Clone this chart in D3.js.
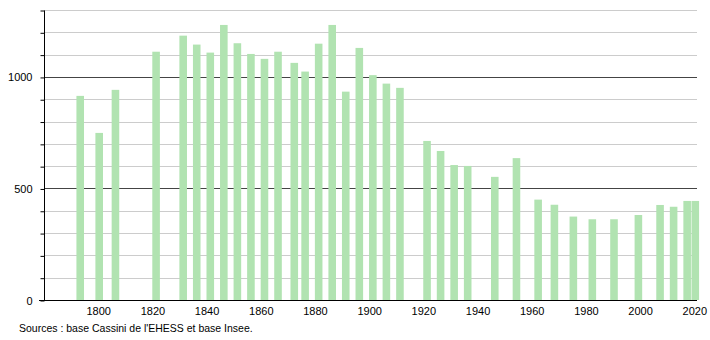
<!DOCTYPE html>
<html lang="fr">
  <head>
    <meta charset="UTF-8" />
    <title>Population</title>
    <style>
      body { margin: 0; background: #fff; }
      text { font-family: "Liberation Sans", Arial, sans-serif; }
    </style>
    <script src="https://d3js.org/d3.v7.min.js"></script>
  </head>
  <body>
    <svg width="710" height="340"></svg>
    <script>
      // census years and population
      var years = [1793, 1800, 1806, 1821, 1831, 1836, 1841, 1846, 1851, 1856,
        1861, 1866, 1872, 1876, 1881, 1886, 1891, 1896, 1901, 1906, 1911,
        1921, 1926, 1931, 1936, 1946, 1954, 1962, 1968, 1975, 1982, 1990,
        1999, 2007, 2012, 2017, 2020];
      var population = [915, 749, 942, 1113, 1185, 1145, 1109, 1233, 1151, 1103,
        1081, 1113, 1063, 1024, 1149, 1233, 934, 1130, 1008, 970, 951,
        713, 668, 605, 601, 552, 636, 450, 427, 374, 362, 362,
        381, 426, 418, 444, 444];
      var xTicks = [1800, 1820, 1840, 1860, 1880, 1900, 1920, 1940, 1960, 1980, 2000, 2020];
      var yLabels = [0, 500, 1000];
      var source = "Sources : base Cassini de l'EHESS et base Insee.";

      var svg = d3.select("svg");
      var mLeft = 44, mRight = 697, mTop = 10, mBottom = 300;

      var x = d3.scaleLinear().domain([1780, 2021]).range([mLeft, mRight]);
      var y = d3.scaleLinear().domain([0, 1300]).range([mBottom, mTop]);
      var barW = x(1782.8) - x(1780);

      // grid
      svg.append("g")
        .selectAll("line")
        .data(d3.range(100, 1301, 100))
        .join("line")
        .attr("x1", mLeft)
        .attr("x2", mRight)
        .attr("y1", (d) => Math.round(y(d)) + 0.5)
        .attr("y2", (d) => Math.round(y(d)) + 0.5)
        .attr("stroke", (d) => (d % 500 == 0 ? "#444" : "#ccc"))
        .attr("stroke-width", (d) => (d % 500 == 0 ? 1.2 : 1));

      // bars
      svg.append("g")
        .selectAll("rect")
        .data(years)
        .join("rect")
        .attr("x", (d) => x(d) + 1 - barW / 2)
        .attr("width", barW)
        .attr("y", (d, i) => y(population[i]))
        .attr("height", (d, i) => mBottom - y(population[i]))
        .attr("fill", "#b1e3b1");

      // y axis
      var yAxis = d3.axisLeft(y)
        .tickValues(d3.range(0, 1301, 100))
        .tickSize(4)
        .tickFormat((d) => (yLabels.includes(d) ? d : ""));
      var gy = svg.append("g")
        .attr("transform", "translate(" + (mLeft + 0.5) + ",0.5)")
        .call(yAxis);
      gy.select(".domain").attr("d", "M0," + mTop + "V" + mBottom).attr("stroke", "#000");
      gy.selectAll(".tick line").attr("stroke", "#000");
      gy.selectAll(".tick text")
        .attr("x", -12)
        .attr("font-size", 11)
        .attr("font-family", "Liberation Sans, Arial, sans-serif")
        .attr("fill", "#000");

      // x axis
      var xAxis = d3.axisBottom(x).tickValues(xTicks).tickSize(0).tickFormat(d3.format("d"));
      var gx = svg.append("g")
        .attr("transform", "translate(0," + (mBottom + 0.5) + ")")
        .call(xAxis);
      gx.select(".domain").attr("d", "M" + (mLeft - 5) + ",0H" + mRight).attr("stroke", "#000");
      gx.selectAll(".tick text")
        .attr("y", 7)
        .attr("font-size", 11)
        .attr("font-family", "Liberation Sans, Arial, sans-serif")
        .attr("fill", "#000");

      svg.append("text")
        .attr("x", 19)
        .attr("y", 332)
        .attr("font-size", 10.5)
        .attr("fill", "#000")
        .text(source);
    </script>
  </body>
</html>
